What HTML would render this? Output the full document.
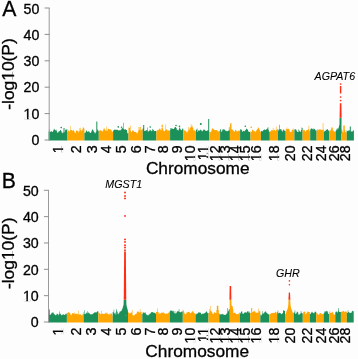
<!DOCTYPE html>
<html><head><meta charset="utf-8"><title>Manhattan plots</title>
<style>
html,body{margin:0;padding:0;background:#fdfdfd;}
svg{display:block;font-family:"Liberation Sans",sans-serif;fill:#000;}
text{stroke:#000;stroke-width:0.3px;}
text.g{stroke-width:0.08px;}
</style></head><body>
<svg width="358" height="359" viewBox="0 0 358 359">
<rect width="358" height="359" fill="#fdfdfd"/>
<path d="M48.60,140.60L48.60,131.17L49.10,131.17L49.10,129.07L49.59,129.07L49.59,131.99L50.09,131.99L50.09,132.10L50.59,132.10L50.59,131.14L51.09,131.14L51.09,130.88L51.58,130.88L51.58,131.66L52.08,131.66L52.08,131.66L52.58,131.66L52.58,131.90L53.08,131.90L53.08,130.52L53.57,130.52L53.57,129.50L54.07,129.50L54.07,129.71L54.57,129.71L54.57,128.73L55.07,128.73L55.07,130.15L55.56,130.15L55.56,130.13L56.06,130.13L56.06,129.75L56.56,129.75L56.56,131.36L57.06,131.36L57.06,132.46L57.55,132.46L57.55,132.85L58.05,132.85L58.05,132.29L58.55,132.29L58.55,131.39L59.04,131.39L59.04,131.36L59.54,131.36L59.54,131.04L60.04,131.04L60.04,130.34L60.54,130.34L60.54,130.08L61.03,130.08L61.03,130.96L61.53,130.96L61.53,132.54L62.03,132.54L62.03,133.23L62.53,133.23L62.53,132.44L63.02,132.44L63.02,132.49L63.52,132.49L63.52,128.12L64.02,128.12L64.02,128.12L64.52,128.12L64.52,132.21L65.01,132.21L65.01,130.35L65.51,130.35L65.51,129.60L66.01,129.60L66.01,129.03L66.51,129.03L66.51,130.08L67.00,130.08L67.00,131.69L67.50,131.69L67.50,140.60Z" fill="#1b9058"/>
<path d="M67.50,140.60L67.50,128.96L68.00,128.96L68.00,130.03L68.49,130.03L68.49,131.06L68.99,131.06L68.99,131.48L69.49,131.48L69.49,131.25L69.99,131.25L69.99,126.01L70.48,126.01L70.48,130.21L70.98,130.21L70.98,130.08L71.48,130.08L71.48,129.91L71.97,129.91L71.97,130.50L72.47,130.50L72.47,130.63L72.97,130.63L72.97,129.84L73.46,129.84L73.46,130.60L73.96,130.60L73.96,130.89L74.46,130.89L74.46,132.40L74.96,132.40L74.96,132.85L75.45,132.85L75.45,132.96L75.95,132.96L75.95,130.61L76.45,130.61L76.45,130.40L76.94,130.40L76.94,130.78L77.44,130.78L77.44,131.02L77.94,131.02L77.94,131.36L78.44,131.36L78.44,132.46L78.93,132.46L78.93,128.36L79.43,128.36L79.43,131.36L79.93,131.36L79.93,130.03L80.42,130.03L80.42,127.84L80.92,127.84L80.92,130.43L81.42,130.43L81.42,131.23L81.91,131.23L81.91,130.17L82.41,130.17L82.41,128.77L82.91,128.77L82.91,126.97L83.41,126.97L83.41,127.89L83.90,127.89L83.90,128.42L84.40,128.42L84.40,140.60Z" fill="#ffa700"/>
<path d="M84.40,140.60L84.40,132.70L84.90,132.70L84.90,133.10L85.39,133.10L85.39,132.34L85.89,132.34L85.89,130.73L86.39,130.73L86.39,130.45L86.88,130.45L86.88,131.14L87.38,131.14L87.38,131.88L87.88,131.88L87.88,131.79L88.37,131.79L88.37,131.26L88.87,131.26L88.87,131.29L89.37,131.29L89.37,132.19L89.86,132.19L89.86,132.91L90.36,132.91L90.36,132.88L90.86,132.88L90.86,132.14L91.35,132.14L91.35,131.15L91.85,131.15L91.85,129.66L92.34,129.66L92.34,129.28L92.84,129.28L92.84,129.95L93.34,129.95L93.34,131.01L93.83,131.01L93.83,132.01L94.33,132.01L94.33,132.47L94.83,132.47L94.83,133.40L95.32,133.40L95.32,132.83L95.82,132.83L95.82,131.86L96.32,131.86L96.32,121.52L96.81,121.52L96.81,121.52L97.31,121.52L97.31,129.41L97.81,129.41L97.81,130.34L98.30,130.34L98.30,131.01L98.80,131.01L98.80,140.60Z" fill="#1b9058"/>
<path d="M98.80,140.60L98.80,131.05L99.29,131.05L99.29,130.56L99.79,130.56L99.79,130.84L100.28,130.84L100.28,130.01L100.77,130.01L100.77,130.13L101.27,130.13L101.27,130.86L101.76,130.86L101.76,131.14L102.25,131.14L102.25,131.46L102.74,131.46L102.74,130.80L103.24,130.80L103.24,129.29L103.73,129.29L103.73,128.51L104.22,128.51L104.22,128.49L104.72,128.49L104.72,129.54L105.21,129.54L105.21,130.27L105.70,130.27L105.70,130.98L106.20,130.98L106.20,126.77L106.69,126.77L106.69,130.44L107.18,130.44L107.18,130.74L107.68,130.74L107.68,128.98L108.17,128.98L108.17,128.58L108.66,128.58L108.66,128.94L109.16,128.94L109.16,129.39L109.65,129.39L109.65,129.53L110.14,129.53L110.14,129.24L110.63,129.24L110.63,129.79L111.13,129.79L111.13,130.33L111.62,130.33L111.62,131.22L112.11,131.22L112.11,131.89L112.61,131.89L112.61,131.20L113.10,131.20L113.10,140.60Z" fill="#ffa700"/>
<path d="M113.10,140.60L113.10,130.82L113.60,130.82L113.60,130.07L114.09,130.07L114.09,129.74L114.59,129.74L114.59,129.41L115.09,129.41L115.09,129.41L115.58,129.41L115.58,129.91L116.08,129.91L116.08,129.80L116.58,129.80L116.58,129.76L117.07,129.76L117.07,129.82L117.57,129.82L117.57,130.04L118.07,130.04L118.07,129.95L118.56,129.95L118.56,130.76L119.06,130.76L119.06,130.36L119.56,130.36L119.56,130.20L120.05,130.20L120.05,130.52L120.55,130.52L120.55,129.69L121.05,129.69L121.05,129.43L121.55,129.43L121.55,128.57L122.04,128.57L122.04,127.89L122.54,127.89L122.54,128.34L123.04,128.34L123.04,122.87L123.53,122.87L123.53,128.96L124.03,128.96L124.03,129.48L124.53,129.48L124.53,129.62L125.02,129.62L125.02,129.45L125.52,129.45L125.52,129.33L126.02,129.33L126.02,130.04L126.51,130.04L126.51,129.97L127.01,129.97L127.01,132.53L127.51,132.53L127.51,133.40L128.00,133.40L128.00,132.93L128.50,132.93L128.50,140.60Z" fill="#1b9058"/>
<path d="M128.50,140.60L128.50,127.61L129.01,127.61L129.01,127.70L129.51,127.70L129.51,127.81L130.02,127.81L130.02,125.48L130.53,125.48L130.53,130.92L131.04,130.92L131.04,131.90L131.54,131.90L131.54,132.06L132.05,132.06L132.05,130.83L132.56,130.83L132.56,130.24L133.06,130.24L133.06,130.52L133.57,130.52L133.57,131.12L134.08,131.12L134.08,131.91L134.59,131.91L134.59,132.12L135.09,132.12L135.09,131.87L135.60,131.87L135.60,131.98L136.11,131.98L136.11,132.46L136.61,132.46L136.61,133.29L137.12,133.29L137.12,133.40L137.63,133.40L137.63,131.91L138.14,131.91L138.14,130.59L138.64,130.59L138.64,126.90L139.15,126.90L139.15,129.69L139.66,129.69L139.66,127.06L140.16,127.06L140.16,127.06L140.67,127.06L140.67,130.20L141.18,130.20L141.18,129.69L141.69,129.69L141.69,129.73L142.19,129.73L142.19,128.89L142.70,128.89L142.70,140.60Z" fill="#ffa700"/>
<path d="M142.70,140.60L142.70,128.56L143.21,128.56L143.21,124.95L143.71,124.95L143.71,124.95L144.22,124.95L144.22,131.12L144.73,131.12L144.73,130.91L145.24,130.91L145.24,130.87L145.74,130.87L145.74,130.15L146.25,130.15L146.25,130.08L146.76,130.08L146.76,130.61L147.27,130.61L147.27,127.62L147.77,127.62L147.77,131.56L148.28,131.56L148.28,131.60L148.79,131.60L148.79,131.05L149.30,131.05L149.30,130.53L149.80,130.53L149.80,129.57L150.31,129.57L150.31,130.21L150.82,130.21L150.82,130.78L151.33,130.78L151.33,131.33L151.83,131.33L151.83,130.65L152.34,130.65L152.34,128.98L152.85,128.98L152.85,129.55L153.36,129.55L153.36,130.09L153.86,130.09L153.86,131.26L154.37,131.26L154.37,131.04L154.88,131.04L154.88,130.71L155.39,130.71L155.39,131.01L155.89,131.01L155.89,131.09L156.40,131.09L156.40,140.60Z" fill="#1b9058"/>
<path d="M156.40,140.60L156.40,130.91L156.91,130.91L156.91,130.14L157.41,130.14L157.41,130.16L157.92,130.16L157.92,130.31L158.43,130.31L158.43,129.67L158.94,129.67L158.94,129.04L159.44,129.04L159.44,128.58L159.95,128.58L159.95,128.85L160.46,128.85L160.46,129.97L160.97,129.97L160.97,130.44L161.47,130.44L161.47,127.89L161.98,127.89L161.98,128.50L162.49,128.50L162.49,124.32L163.00,124.32L163.00,129.50L163.50,129.50L163.50,130.88L164.01,130.88L164.01,131.13L164.52,131.13L164.52,130.96L165.03,130.96L165.03,129.98L165.53,129.98L165.53,124.51L166.04,124.51L166.04,128.90L166.55,128.90L166.55,129.80L167.06,129.80L167.06,130.57L167.56,130.57L167.56,130.44L168.07,130.44L168.07,130.41L168.58,130.41L168.58,130.49L169.09,130.49L169.09,130.79L169.59,130.79L169.59,130.17L170.10,130.17L170.10,140.60Z" fill="#ffa700"/>
<path d="M170.10,140.60L170.10,127.93L170.60,127.93L170.60,129.87L171.11,129.87L171.11,128.55L171.61,128.55L171.61,128.21L172.12,128.21L172.12,128.47L172.62,128.47L172.62,128.97L173.12,128.97L173.12,128.90L173.63,128.90L173.63,129.09L174.13,129.09L174.13,128.02L174.63,128.02L174.63,127.00L175.14,127.00L175.14,127.00L175.64,127.00L175.64,127.14L176.15,127.14L176.15,128.09L176.65,128.09L176.65,129.81L177.15,129.81L177.15,129.81L177.66,129.81L177.66,130.29L178.16,130.29L178.16,130.42L178.67,130.42L178.67,129.22L179.17,129.22L179.17,127.49L179.67,127.49L179.67,127.59L180.18,127.59L180.18,128.99L180.68,128.99L180.68,130.04L181.18,130.04L181.18,130.17L181.69,130.17L181.69,129.79L182.19,129.79L182.19,128.70L182.70,128.70L182.70,128.46L183.20,128.46L183.20,140.60Z" fill="#1b9058"/>
<path d="M183.20,140.60L183.20,129.24L183.71,129.24L183.71,129.87L184.22,129.87L184.22,130.70L184.72,130.70L184.72,130.31L185.23,130.31L185.23,130.71L185.74,130.71L185.74,131.22L186.25,131.22L186.25,131.88L186.76,131.88L186.76,132.64L187.26,132.64L187.26,131.56L187.77,131.56L187.77,130.41L188.28,130.41L188.28,126.89L188.79,126.89L188.79,130.35L189.30,130.35L189.30,128.82L189.80,128.82L189.80,127.82L190.31,127.82L190.31,127.50L190.82,127.50L190.82,124.27L191.33,124.27L191.33,126.67L191.84,126.67L191.84,125.32L192.34,125.32L192.34,127.24L192.85,127.24L192.85,127.78L193.36,127.78L193.36,130.29L193.87,130.29L193.87,130.01L194.38,130.01L194.38,130.40L194.88,130.40L194.88,131.60L195.39,131.60L195.39,131.09L195.90,131.09L195.90,140.60Z" fill="#ffa700"/>
<path d="M195.90,140.60L195.90,129.61L196.39,129.61L196.39,129.78L196.89,129.78L196.89,128.54L197.38,128.54L197.38,131.89L197.87,131.89L197.87,130.31L198.36,130.31L198.36,130.65L198.86,130.65L198.86,130.81L199.35,130.81L199.35,130.43L199.84,130.43L199.84,130.00L200.33,130.00L200.33,129.45L200.83,129.45L200.83,130.15L201.32,130.15L201.32,130.52L201.81,130.52L201.81,131.34L202.30,131.34L202.30,131.18L202.80,131.18L202.80,130.13L203.29,130.13L203.29,129.66L203.78,129.66L203.78,129.48L204.27,129.48L204.27,129.71L204.77,129.71L204.77,130.11L205.26,130.11L205.26,130.67L205.75,130.67L205.75,131.06L206.24,131.06L206.24,131.07L206.74,131.07L206.74,130.74L207.23,130.74L207.23,130.21L207.72,130.21L207.72,130.45L208.21,130.45L208.21,118.88L208.71,118.88L208.71,118.88L209.20,118.88L209.20,140.60Z" fill="#1b9058"/>
<path d="M209.20,140.60L209.20,131.97L209.70,131.97L209.70,131.98L210.19,131.98L210.19,132.19L210.69,132.19L210.69,131.73L211.18,131.73L211.18,130.76L211.68,130.76L211.68,129.23L212.17,129.23L212.17,128.36L212.67,128.36L212.67,128.58L213.16,128.58L213.16,129.09L213.66,129.09L213.66,129.48L214.15,129.48L214.15,130.01L214.65,130.01L214.65,130.05L215.15,130.05L215.15,130.09L215.64,130.09L215.64,130.13L216.14,130.13L216.14,130.00L216.63,130.00L216.63,130.07L217.13,130.07L217.13,130.49L217.62,130.49L217.62,131.15L218.12,131.15L218.12,131.38L218.61,131.38L218.61,131.20L219.11,131.20L219.11,130.97L219.60,130.97L219.60,130.59L220.10,130.59L220.10,140.60Z" fill="#ffa700"/>
<path d="M220.10,140.60L220.10,128.95L220.59,128.95L220.59,129.63L221.08,129.63L221.08,131.28L221.57,131.28L221.57,131.93L222.06,131.93L222.06,129.36L222.55,129.36L222.55,130.45L223.04,130.45L223.04,129.54L223.53,129.54L223.53,129.19L224.02,129.19L224.02,129.77L224.51,129.77L224.51,129.56L225.00,129.56L225.00,130.78L225.49,130.78L225.49,130.50L225.98,130.50L225.98,130.82L226.47,130.82L226.47,131.18L226.96,131.18L226.96,131.08L227.45,131.08L227.45,131.27L227.94,131.27L227.94,130.93L228.43,130.93L228.43,130.29L228.92,130.29L228.92,127.28L229.41,127.28L229.41,130.36L229.90,130.36L229.90,140.60Z" fill="#1b9058"/>
<path d="M229.90,140.60L229.90,124.56L230.41,124.56L230.41,123.10L230.92,123.10L230.92,123.10L231.43,123.10L231.43,129.35L231.94,129.35L231.94,129.60L232.45,129.60L232.45,129.85L232.96,129.85L232.96,130.39L233.47,130.39L233.47,131.01L233.98,131.01L233.98,131.68L234.49,131.68L234.49,131.27L235.00,131.27L235.00,130.22L235.51,130.22L235.51,129.77L236.02,129.77L236.02,130.48L236.53,130.48L236.53,131.32L237.04,131.32L237.04,131.35L237.55,131.35L237.55,131.46L238.06,131.46L238.06,130.48L238.57,130.48L238.57,130.64L239.08,130.64L239.08,130.72L239.59,130.72L239.59,130.72L240.10,130.72L240.10,140.60Z" fill="#ffa700"/>
<path d="M240.10,140.60L240.10,129.20L240.60,129.20L240.60,129.38L241.09,129.38L241.09,129.52L241.59,129.52L241.59,130.13L242.08,130.13L242.08,131.47L242.58,131.47L242.58,131.64L243.07,131.64L243.07,130.75L243.57,130.75L243.57,131.02L244.06,131.02L244.06,130.65L244.56,130.65L244.56,131.59L245.05,131.59L245.05,130.20L245.55,130.20L245.55,129.71L246.04,129.71L246.04,128.95L246.54,128.95L246.54,128.54L247.03,128.54L247.03,129.18L247.53,129.18L247.53,129.84L248.02,129.84L248.02,131.08L248.52,131.08L248.52,131.97L249.01,131.97L249.01,131.76L249.51,131.76L249.51,132.02L250.00,132.02L250.00,132.83L250.50,132.83L250.50,140.60Z" fill="#1b9058"/>
<path d="M250.50,140.60L250.50,131.30L251.00,131.30L251.00,131.79L251.49,131.79L251.49,131.84L251.99,131.84L251.99,129.90L252.48,129.90L252.48,129.61L252.98,129.61L252.98,130.18L253.47,130.18L253.47,130.70L253.97,130.70L253.97,130.88L254.46,130.88L254.46,131.35L254.96,131.35L254.96,132.22L255.45,132.22L255.45,131.49L255.95,131.49L255.95,130.78L256.44,130.78L256.44,130.11L256.94,130.11L256.94,129.18L257.43,129.18L257.43,128.73L257.93,128.73L257.93,127.72L258.42,127.72L258.42,127.52L258.92,127.52L258.92,128.77L259.41,128.77L259.41,130.12L259.91,130.12L259.91,131.32L260.40,131.32L260.40,131.95L260.90,131.95L260.90,140.60Z" fill="#ffa700"/>
<path d="M260.90,140.60L260.90,131.19L261.39,131.19L261.39,130.74L261.89,130.74L261.89,131.35L262.38,131.35L262.38,131.14L262.88,131.14L262.88,130.58L263.37,130.58L263.37,129.92L263.87,129.92L263.87,129.55L264.36,129.55L264.36,129.51L264.86,129.51L264.86,129.95L265.35,129.95L265.35,130.00L265.84,130.00L265.84,129.41L266.34,129.41L266.34,129.36L266.83,129.36L266.83,128.67L267.33,128.67L267.33,128.36L267.82,128.36L267.82,126.90L268.32,126.90L268.32,129.80L268.81,129.80L268.81,131.35L269.31,131.35L269.31,131.88L269.80,131.88L269.80,140.60Z" fill="#1b9058"/>
<path d="M269.80,140.60L269.80,131.69L270.31,131.69L270.31,131.24L270.82,131.24L270.82,130.83L271.34,130.83L271.34,130.00L271.85,130.00L271.85,130.08L272.36,130.08L272.36,130.34L272.88,130.34L272.88,127.74L273.39,127.74L273.39,130.82L273.90,130.82L273.90,129.67L274.41,129.67L274.41,129.68L274.93,129.68L274.93,130.93L275.44,130.93L275.44,130.68L275.95,130.68L275.95,126.62L276.46,126.62L276.46,129.93L276.98,129.93L276.98,129.06L277.49,129.06L277.49,129.53L278.00,129.53L278.00,140.60Z" fill="#ffa700"/>
<path d="M278.00,140.60L278.00,130.86L278.51,130.86L278.51,129.59L279.03,129.59L279.03,124.69L279.54,124.69L279.54,129.55L280.05,129.55L280.05,129.26L280.57,129.26L280.57,129.28L281.08,129.28L281.08,129.62L281.59,129.62L281.59,130.77L282.11,130.77L282.11,131.74L282.62,131.74L282.62,130.49L283.13,130.49L283.13,129.64L283.65,129.64L283.65,129.62L284.16,129.62L284.16,130.75L284.67,130.75L284.67,130.81L285.19,130.81L285.19,131.32L285.70,131.32L285.70,140.60Z" fill="#1b9058"/>
<path d="M285.70,140.60L285.70,129.29L286.21,129.29L286.21,129.24L286.72,129.24L286.72,127.54L287.24,127.54L287.24,128.90L287.75,128.90L287.75,128.91L288.26,128.91L288.26,128.73L288.77,128.73L288.77,128.76L289.28,128.76L289.28,130.22L289.79,130.22L289.79,131.70L290.31,131.70L290.31,132.19L290.82,132.19L290.82,131.89L291.33,131.89L291.33,131.48L291.84,131.48L291.84,130.00L292.35,130.00L292.35,129.44L292.86,129.44L292.86,128.52L293.38,128.52L293.38,129.87L293.89,129.87L293.89,130.80L294.40,130.80L294.40,140.60Z" fill="#ffa700"/>
<path d="M294.40,140.60L294.40,129.49L294.91,129.49L294.91,129.10L295.42,129.10L295.42,129.41L295.94,129.41L295.94,129.72L296.45,129.72L296.45,130.65L296.96,130.65L296.96,131.71L297.48,131.71L297.48,132.08L297.99,132.08L297.99,131.89L298.50,131.89L298.50,129.50L299.01,129.50L299.01,130.48L299.52,130.48L299.52,131.17L300.04,131.17L300.04,131.87L300.55,131.87L300.55,131.71L301.06,131.71L301.06,130.03L301.58,130.03L301.58,127.40L302.09,127.40L302.09,127.94L302.60,127.94L302.60,140.60Z" fill="#1b9058"/>
<path d="M302.60,140.60L302.60,130.04L303.11,130.04L303.11,130.42L303.61,130.42L303.61,129.86L304.12,129.86L304.12,130.05L304.63,130.05L304.63,130.81L305.13,130.81L305.13,131.38L305.64,131.38L305.64,131.73L306.15,131.73L306.15,130.08L306.65,130.08L306.65,130.11L307.16,130.11L307.16,129.86L307.67,129.86L307.67,130.13L308.17,130.13L308.17,128.88L308.68,128.88L308.68,125.74L309.19,125.74L309.19,130.20L309.69,130.20L309.69,131.29L310.20,131.29L310.20,140.60Z" fill="#ffa700"/>
<path d="M310.20,140.60L310.20,129.53L310.69,129.53L310.69,128.83L311.18,128.83L311.18,128.33L311.68,128.33L311.68,128.75L312.17,128.75L312.17,129.35L312.66,129.35L312.66,128.64L313.15,128.64L313.15,129.60L313.65,129.60L313.65,128.34L314.14,128.34L314.14,129.12L314.63,129.12L314.63,129.27L315.12,129.27L315.12,129.93L315.62,129.93L315.62,130.71L316.11,130.71L316.11,130.20L316.60,130.20L316.60,140.60Z" fill="#1b9058"/>
<path d="M316.60,140.60L316.60,131.00L317.11,131.00L317.11,129.07L317.63,129.07L317.63,130.28L318.14,130.28L318.14,130.11L318.66,130.11L318.66,129.17L319.17,129.17L319.17,129.44L319.69,129.44L319.69,129.33L320.20,129.33L320.20,129.49L320.71,129.49L320.71,129.70L321.23,129.70L321.23,129.74L321.74,129.74L321.74,129.92L322.26,129.92L322.26,129.88L322.77,129.88L322.77,123.10L323.29,123.10L323.29,129.49L323.80,129.49L323.80,140.60Z" fill="#ffa700"/>
<path d="M323.80,140.60L323.80,131.45L324.31,131.45L324.31,131.56L324.82,131.56L324.82,130.90L325.33,130.90L325.33,130.67L325.84,130.67L325.84,129.86L326.35,129.86L326.35,130.09L326.85,130.09L326.85,129.11L327.36,129.11L327.36,129.35L327.87,129.35L327.87,130.07L328.38,130.07L328.38,131.08L328.89,131.08L328.89,130.61L329.40,130.61L329.40,140.60Z" fill="#1b9058"/>
<path d="M329.40,140.60L329.40,131.52L329.88,131.52L329.88,130.94L330.37,130.94L330.37,129.94L330.85,129.94L330.85,129.61L331.34,129.61L331.34,127.59L331.82,127.59L331.82,127.59L332.31,127.59L332.31,127.59L332.79,127.59L332.79,130.46L333.28,130.46L333.28,130.48L333.76,130.48L333.76,131.14L334.25,131.14L334.25,131.77L334.73,131.77L334.73,131.91L335.22,131.91L335.22,131.28L335.70,131.28L335.70,140.60Z" fill="#ffa700"/>
<path d="M335.70,140.60L335.70,130.77L336.22,130.77L336.22,129.83L336.74,129.83L336.74,128.53L337.25,128.53L337.25,128.48L337.77,128.48L337.77,130.22L338.29,130.22L338.29,130.49L338.81,130.49L338.81,130.12L339.33,130.12L339.33,129.63L339.85,129.63L339.85,128.84L340.36,128.84L340.36,130.53L340.88,130.53L340.88,131.29L341.40,131.29L341.40,140.60Z" fill="#1b9058"/>
<path d="M341.40,140.60L341.40,129.31L341.88,129.31L341.88,130.06L342.36,130.06L342.36,131.69L342.85,131.69L342.85,132.46L343.33,132.46L343.33,125.48L343.81,125.48L343.81,125.48L344.29,125.48L344.29,125.48L344.77,125.48L344.77,130.18L345.25,130.18L345.25,132.11L345.74,132.11L345.74,132.45L346.22,132.45L346.22,131.99L346.70,131.99L346.70,140.60Z" fill="#ffa700"/>
<path d="M346.70,140.60L346.70,130.13L347.21,130.13L347.21,131.12L347.73,131.12L347.73,131.15L348.24,131.15L348.24,130.53L348.76,130.53L348.76,130.17L349.27,130.17L349.27,130.61L349.79,130.61L349.79,126.54L350.30,126.54L350.30,126.54L350.81,126.54L350.81,131.43L351.33,131.43L351.33,131.50L351.84,131.50L351.84,131.59L352.36,131.59L352.36,131.28L352.87,131.28L352.87,130.93L353.39,130.93L353.39,130.06L353.90,130.06L353.90,140.60Z" fill="#1b9058"/>
<path d="M48.20,322.60L48.20,314.03L48.71,314.03L48.71,309.62L49.21,309.62L49.21,309.62L49.72,309.62L49.72,314.83L50.22,314.83L50.22,314.70L50.73,314.70L50.73,314.13L51.23,314.13L51.23,313.35L51.74,313.35L51.74,312.87L52.24,312.87L52.24,312.46L52.75,312.46L52.75,312.43L53.25,312.43L53.25,312.75L53.76,312.75L53.76,314.26L54.26,314.26L54.26,314.04L54.77,314.04L54.77,315.02L55.28,315.02L55.28,315.35L55.78,315.35L55.78,315.17L56.29,315.17L56.29,314.41L56.79,314.41L56.79,313.62L57.30,313.62L57.30,313.97L57.80,313.97L57.80,314.48L58.31,314.48L58.31,315.22L58.81,315.22L58.81,314.09L59.32,314.09L59.32,311.57L59.82,311.57L59.82,313.69L60.33,313.69L60.33,313.78L60.84,313.78L60.84,314.78L61.34,314.78L61.34,315.22L61.85,315.22L61.85,315.25L62.35,315.25L62.35,314.52L62.86,314.52L62.86,314.42L63.36,314.42L63.36,314.34L63.87,314.34L63.87,314.65L64.37,314.65L64.37,314.90L64.88,314.90L64.88,314.61L65.38,314.61L65.38,313.81L65.89,313.81L65.89,314.29L66.39,314.29L66.39,313.61L66.90,313.61L66.90,322.60Z" fill="#1b9058"/>
<path d="M66.90,322.60L66.90,313.31L67.41,313.31L67.41,312.74L67.91,312.74L67.91,312.58L68.42,312.58L68.42,312.15L68.92,312.15L68.92,312.34L69.43,312.34L69.43,312.95L69.94,312.95L69.94,313.49L70.44,313.49L70.44,314.69L70.95,314.69L70.95,315.42L71.45,315.42L71.45,314.22L71.96,314.22L71.96,313.09L72.47,313.09L72.47,313.47L72.97,313.47L72.97,312.97L73.48,312.97L73.48,313.48L73.98,313.48L73.98,312.58L74.49,312.58L74.49,314.22L75.00,314.22L75.00,314.09L75.50,314.09L75.50,313.83L76.01,313.83L76.01,313.70L76.52,313.70L76.52,313.80L77.02,313.80L77.02,314.22L77.53,314.22L77.53,313.68L78.03,313.68L78.03,310.83L78.54,310.83L78.54,314.57L79.05,314.57L79.05,314.19L79.55,314.19L79.55,314.44L80.06,314.44L80.06,314.22L80.56,314.22L80.56,314.46L81.07,314.46L81.07,315.26L81.58,315.26L81.58,315.42L82.08,315.42L82.08,315.34L82.59,315.34L82.59,313.82L83.09,313.82L83.09,312.12L83.60,312.12L83.60,322.60Z" fill="#ffa700"/>
<path d="M83.60,322.60L83.60,313.88L84.11,313.88L84.11,310.24L84.61,310.24L84.61,314.32L85.12,314.32L85.12,313.86L85.63,313.86L85.63,313.66L86.13,313.66L86.13,312.84L86.64,312.84L86.64,312.64L87.15,312.64L87.15,311.29L87.66,311.29L87.66,313.60L88.16,313.60L88.16,312.60L88.67,312.60L88.67,312.81L89.18,312.81L89.18,313.30L89.68,313.30L89.68,314.00L90.19,314.00L90.19,314.16L90.70,314.16L90.70,314.42L91.20,314.42L91.20,314.15L91.71,314.15L91.71,314.15L92.22,314.15L92.22,314.23L92.72,314.23L92.72,313.71L93.23,313.71L93.23,313.36L93.74,313.36L93.74,313.00L94.24,313.00L94.24,312.42L94.75,312.42L94.75,311.95L95.26,311.95L95.26,312.42L95.77,312.42L95.77,312.37L96.27,312.37L96.27,312.51L96.78,312.51L96.78,311.86L97.29,311.86L97.29,311.17L97.79,311.17L97.79,311.15L98.30,311.15L98.30,322.60Z" fill="#1b9058"/>
<path d="M98.30,322.60L98.30,312.20L98.80,312.20L98.80,312.99L99.29,312.99L99.29,313.36L99.79,313.36L99.79,313.54L100.29,313.54L100.29,314.48L100.78,314.48L100.78,313.67L101.28,313.67L101.28,310.69L101.78,310.69L101.78,313.39L102.27,313.39L102.27,313.67L102.77,313.67L102.77,313.95L103.27,313.95L103.27,313.80L103.76,313.80L103.76,313.93L104.26,313.93L104.26,313.77L104.76,313.77L104.76,313.73L105.25,313.73L105.25,313.03L105.75,313.03L105.75,312.33L106.24,312.33L106.24,313.19L106.74,313.19L106.74,313.72L107.24,313.72L107.24,312.87L107.73,312.87L107.73,314.45L108.23,314.45L108.23,314.06L108.73,314.06L108.73,314.45L109.22,314.45L109.22,313.47L109.72,313.47L109.72,314.76L110.22,314.76L110.22,313.75L110.71,313.75L110.71,313.20L111.21,313.20L111.21,313.39L111.71,313.39L111.71,314.09L112.20,314.09L112.20,315.42L112.70,315.42L112.70,322.60Z" fill="#ffa700"/>
<path d="M112.70,322.60L112.70,312.03L113.19,312.03L113.19,312.42L113.69,312.42L113.69,309.81L114.18,309.81L114.18,313.22L114.67,313.22L114.67,313.65L115.17,313.65L115.17,312.42L115.66,312.42L115.66,314.75L116.15,314.75L116.15,308.96L116.65,308.96L116.65,310.83L117.14,310.83L117.14,311.71L117.64,311.71L117.64,313.70L118.13,313.70L118.13,314.25L118.62,314.25L118.62,313.33L119.12,313.33L119.12,312.80L119.61,312.80L119.61,311.38L120.10,311.38L120.10,311.40L120.60,311.40L120.60,311.26L121.09,311.26L121.09,311.24L121.58,311.24L121.58,311.33L122.08,311.33L122.08,312.20L122.57,312.20L122.57,312.32L123.06,312.32L123.06,312.59L123.56,312.59L123.56,311.96L124.05,311.96L124.05,311.98L124.55,311.98L124.55,313.16L125.04,313.16L125.04,314.69L125.53,314.69L125.53,315.42L126.03,315.42L126.03,315.42L126.52,315.42L126.52,313.47L127.01,313.47L127.01,312.20L127.51,312.20L127.51,311.58L128.00,311.58L128.00,322.60Z" fill="#1b9058"/>
<path d="M128.00,322.60L128.00,312.38L128.49,312.38L128.49,312.47L128.99,312.47L128.99,313.00L129.48,313.00L129.48,313.77L129.97,313.77L129.97,313.29L130.47,313.29L130.47,312.71L130.96,312.71L130.96,312.27L131.45,312.27L131.45,312.76L131.94,312.76L131.94,309.91L132.44,309.91L132.44,314.69L132.93,314.69L132.93,315.24L133.42,315.24L133.42,315.42L133.92,315.42L133.92,315.42L134.41,315.42L134.41,315.11L134.90,315.11L134.90,314.12L135.40,314.12L135.40,314.22L135.89,314.22L135.89,314.08L136.38,314.08L136.38,313.17L136.88,313.17L136.88,311.80L137.37,311.80L137.37,311.44L137.86,311.44L137.86,311.43L138.36,311.43L138.36,311.76L138.85,311.76L138.85,312.68L139.34,312.68L139.34,312.28L139.83,312.28L139.83,309.29L140.33,309.29L140.33,312.18L140.82,312.18L140.82,312.03L141.31,312.03L141.31,313.68L141.81,313.68L141.81,311.79L142.30,311.79L142.30,322.60Z" fill="#ffa700"/>
<path d="M142.30,322.60L142.30,313.92L142.81,313.92L142.81,312.79L143.31,312.79L143.31,312.35L143.82,312.35L143.82,312.96L144.33,312.96L144.33,312.50L144.84,312.50L144.84,313.35L145.34,313.35L145.34,312.22L145.85,312.22L145.85,314.28L146.36,314.28L146.36,314.83L146.87,314.83L146.87,314.69L147.37,314.69L147.37,315.35L147.88,315.35L147.88,315.42L148.39,315.42L148.39,314.78L148.90,314.78L148.90,313.93L149.40,313.93L149.40,314.54L149.91,314.54L149.91,313.34L150.42,313.34L150.42,313.42L150.93,313.42L150.93,312.56L151.43,312.56L151.43,312.08L151.94,312.08L151.94,312.09L152.45,312.09L152.45,312.33L152.96,312.33L152.96,312.22L153.46,312.22L153.46,313.10L153.97,313.10L153.97,312.52L154.48,312.52L154.48,313.07L154.99,313.07L154.99,313.30L155.49,313.30L155.49,313.83L156.00,313.83L156.00,322.60Z" fill="#1b9058"/>
<path d="M156.00,322.60L156.00,311.92L156.51,311.92L156.51,311.66L157.01,311.66L157.01,311.84L157.52,311.84L157.52,308.17L158.03,308.17L158.03,311.91L158.54,311.91L158.54,313.86L159.04,313.86L159.04,312.78L159.55,312.78L159.55,313.76L160.06,313.76L160.06,313.42L160.57,313.42L160.57,313.30L161.07,313.30L161.07,312.73L161.58,312.73L161.58,312.51L162.09,312.51L162.09,312.91L162.60,312.91L162.60,312.25L163.10,312.25L163.10,312.27L163.61,312.27L163.61,313.16L164.12,313.16L164.12,313.02L164.63,313.02L164.63,313.45L165.13,313.45L165.13,314.18L165.64,314.18L165.64,313.80L166.15,313.80L166.15,313.63L166.66,313.63L166.66,313.13L167.16,313.13L167.16,313.78L167.67,313.78L167.67,313.54L168.18,313.54L168.18,312.75L168.69,312.75L168.69,312.43L169.19,312.43L169.19,312.31L169.70,312.31L169.70,322.60Z" fill="#ffa700"/>
<path d="M169.70,322.60L169.70,311.17L170.20,311.17L170.20,310.59L170.71,310.59L170.71,310.43L171.21,310.43L171.21,310.99L171.72,310.99L171.72,310.22L172.22,310.22L172.22,311.20L172.72,311.20L172.72,311.20L173.23,311.20L173.23,310.83L173.73,310.83L173.73,312.50L174.23,312.50L174.23,313.20L174.74,313.20L174.74,310.95L175.24,310.95L175.24,313.56L175.75,313.56L175.75,313.54L176.25,313.54L176.25,312.65L176.75,312.65L176.75,311.87L177.26,311.87L177.26,311.26L177.76,311.26L177.76,311.04L178.27,311.04L178.27,311.45L178.77,311.45L178.77,309.10L179.27,309.10L179.27,311.72L179.78,311.72L179.78,312.25L180.28,312.25L180.28,312.35L180.78,312.35L180.78,312.29L181.29,312.29L181.29,311.68L181.79,311.68L181.79,311.13L182.30,311.13L182.30,311.48L182.80,311.48L182.80,322.60Z" fill="#1b9058"/>
<path d="M182.80,322.60L182.80,309.76L183.31,309.76L183.31,310.56L183.82,310.56L183.82,311.88L184.32,311.88L184.32,313.45L184.83,313.45L184.83,314.24L185.34,314.24L185.34,314.27L185.85,314.27L185.85,313.77L186.36,313.77L186.36,312.82L186.86,312.82L186.86,312.24L187.37,312.24L187.37,312.19L187.88,312.19L187.88,311.80L188.39,311.80L188.39,311.98L188.90,311.98L188.90,311.76L189.40,311.76L189.40,312.42L189.91,312.42L189.91,312.98L190.42,312.98L190.42,313.22L190.93,313.22L190.93,312.92L191.44,312.92L191.44,312.03L191.94,312.03L191.94,311.29L192.45,311.29L192.45,311.16L192.96,311.16L192.96,311.84L193.47,311.84L193.47,312.54L193.98,312.54L193.98,313.15L194.48,313.15L194.48,313.33L194.99,313.33L194.99,313.45L195.50,313.45L195.50,322.60Z" fill="#ffa700"/>
<path d="M195.50,322.60L195.50,314.40L196.00,314.40L196.00,313.71L196.50,313.71L196.50,314.23L197.00,314.23L197.00,313.90L197.50,313.90L197.50,312.89L198.00,312.89L198.00,312.46L198.50,312.46L198.50,312.47L199.00,312.47L199.00,312.62L199.50,312.62L199.50,312.39L200.00,312.39L200.00,312.44L200.50,312.44L200.50,312.89L201.00,312.89L201.00,314.11L201.50,314.11L201.50,314.43L202.00,314.43L202.00,313.63L202.50,313.63L202.50,313.74L203.00,313.74L203.00,313.82L203.50,313.82L203.50,313.54L204.00,313.54L204.00,313.45L204.50,313.45L204.50,313.09L205.00,313.09L205.00,312.86L205.50,312.86L205.50,312.35L206.00,312.35L206.00,311.58L206.50,311.58L206.50,311.61L207.00,311.61L207.00,312.46L207.50,312.46L207.50,313.25L208.00,313.25L208.00,312.91L208.50,312.91L208.50,322.60Z" fill="#1b9058"/>
<path d="M208.50,322.60L208.50,312.92L208.99,312.92L208.99,312.45L209.48,312.45L209.48,309.05L209.97,309.05L209.97,310.64L210.46,310.64L210.46,306.08L210.95,306.08L210.95,311.18L211.45,311.18L211.45,311.84L211.94,311.84L211.94,312.40L212.43,312.40L212.43,314.10L212.92,314.10L212.92,313.81L213.41,313.81L213.41,313.98L213.90,313.98L213.90,312.06L214.39,312.06L214.39,312.41L214.88,312.41L214.88,313.04L215.37,313.04L215.37,312.81L215.86,312.81L215.86,312.90L216.35,312.90L216.35,309.88L216.85,309.88L216.85,305.67L217.34,305.67L217.34,305.67L217.83,305.67L217.83,305.67L218.32,305.67L218.32,309.88L218.81,309.88L218.81,312.94L219.30,312.94L219.30,322.60Z" fill="#ffa700"/>
<path d="M219.30,322.60L219.30,314.16L219.80,314.16L219.80,314.26L220.30,314.26L220.30,314.60L220.80,314.60L220.80,314.27L221.30,314.27L221.30,314.33L221.80,314.33L221.80,314.34L222.30,314.34L222.30,313.72L222.80,313.72L222.80,314.46L223.30,314.46L223.30,314.47L223.80,314.47L223.80,314.59L224.30,314.59L224.30,314.98L224.80,314.98L224.80,314.99L225.30,314.99L225.30,314.78L225.80,314.78L225.80,314.61L226.30,314.61L226.30,313.76L226.80,313.76L226.80,313.35L227.30,313.35L227.30,308.04L227.80,308.04L227.80,311.51L228.30,311.51L228.30,310.81L228.80,310.81L228.80,309.33L229.30,309.33L229.30,309.36L229.80,309.36L229.80,322.60Z" fill="#1b9058"/>
<path d="M229.80,322.60L229.80,313.56L230.30,313.56L230.30,313.03L230.80,313.03L230.80,312.34L231.30,312.34L231.30,313.20L231.80,313.20L231.80,306.20L232.30,306.20L232.30,306.20L232.80,306.20L232.80,309.02L233.30,309.02L233.30,313.24L233.80,313.24L233.80,312.97L234.30,312.97L234.30,312.63L234.80,312.63L234.80,312.47L235.30,312.47L235.30,313.22L235.80,313.22L235.80,313.88L236.30,313.88L236.30,313.88L236.80,313.88L236.80,314.55L237.30,314.55L237.30,313.89L237.80,313.89L237.80,314.10L238.30,314.10L238.30,313.28L238.80,313.28L238.80,314.31L239.30,314.31L239.30,312.27L239.80,312.27L239.80,322.60Z" fill="#ffa700"/>
<path d="M239.80,322.60L239.80,313.29L240.30,313.29L240.30,313.41L240.79,313.41L240.79,311.97L241.29,311.97L241.29,311.18L241.78,311.18L241.78,311.41L242.28,311.41L242.28,313.53L242.77,313.53L242.77,313.67L243.27,313.67L243.27,313.91L243.76,313.91L243.76,312.91L244.26,312.91L244.26,312.78L244.75,312.78L244.75,312.07L245.25,312.07L245.25,312.27L245.74,312.27L245.74,312.75L246.24,312.75L246.24,312.72L246.73,312.72L246.73,311.82L247.23,311.82L247.23,311.14L247.72,311.14L247.72,311.56L248.22,311.56L248.22,311.56L248.71,311.56L248.71,313.01L249.21,313.01L249.21,311.58L249.70,311.58L249.70,312.69L250.20,312.69L250.20,322.60Z" fill="#1b9058"/>
<path d="M250.20,322.60L250.20,313.00L250.70,313.00L250.70,313.09L251.21,313.09L251.21,308.04L251.72,308.04L251.72,308.04L252.22,308.04L252.22,312.21L252.72,312.21L252.72,312.08L253.23,312.08L253.23,311.30L253.73,311.30L253.73,311.38L254.24,311.38L254.24,311.00L254.75,311.00L254.75,311.49L255.25,311.49L255.25,312.58L255.75,312.58L255.75,312.34L256.26,312.34L256.26,312.95L256.76,312.95L256.76,312.42L257.27,312.42L257.27,312.74L257.77,312.74L257.77,312.65L258.28,312.65L258.28,308.83L258.79,308.83L258.79,311.57L259.29,311.57L259.29,310.94L259.80,310.94L259.80,311.25L260.30,311.25L260.30,322.60Z" fill="#ffa700"/>
<path d="M260.30,322.60L260.30,314.41L260.79,314.41L260.79,315.42L261.29,315.42L261.29,315.29L261.78,315.29L261.78,314.21L262.28,314.21L262.28,311.21L262.77,311.21L262.77,313.84L263.27,313.84L263.27,313.13L263.76,313.13L263.76,313.17L264.26,313.17L264.26,312.14L264.75,312.14L264.75,311.77L265.24,311.77L265.24,311.31L265.74,311.31L265.74,311.82L266.23,311.82L266.23,312.74L266.73,312.74L266.73,313.09L267.22,313.09L267.22,313.78L267.72,313.78L267.72,313.68L268.21,313.68L268.21,314.16L268.71,314.16L268.71,314.42L269.20,314.42L269.20,322.60Z" fill="#1b9058"/>
<path d="M269.20,322.60L269.20,314.42L269.70,314.42L269.70,314.38L270.20,314.38L270.20,313.66L270.70,313.66L270.70,313.30L271.20,313.30L271.20,313.14L271.70,313.14L271.70,313.07L272.20,313.07L272.20,313.22L272.70,313.22L272.70,312.81L273.20,312.81L273.20,312.66L273.70,312.66L273.70,312.93L274.20,312.93L274.20,312.98L274.70,312.98L274.70,312.45L275.20,312.45L275.20,311.82L275.70,311.82L275.70,311.95L276.20,311.95L276.20,312.53L276.70,312.53L276.70,314.04L277.20,314.04L277.20,322.60Z" fill="#ffa700"/>
<path d="M277.20,322.60L277.20,312.18L277.69,312.18L277.69,310.62L278.18,310.62L278.18,313.26L278.66,313.26L278.66,313.13L279.15,313.13L279.15,312.84L279.64,312.84L279.64,312.77L280.12,312.77L280.12,313.22L280.61,313.22L280.61,313.62L281.10,313.62L281.10,314.00L281.59,314.00L281.59,314.17L282.07,314.17L282.07,313.41L282.56,313.41L282.56,312.92L283.05,312.92L283.05,310.73L283.54,310.73L283.54,310.12L284.02,310.12L284.02,310.79L284.51,310.79L284.51,311.10L285.00,311.10L285.00,322.60Z" fill="#1b9058"/>
<path d="M285.00,322.60L285.00,313.68L285.51,313.68L285.51,314.13L286.02,314.13L286.02,312.67L286.54,312.67L286.54,313.05L287.05,313.05L287.05,312.78L287.56,312.78L287.56,313.02L288.07,313.02L288.07,308.50L288.58,308.50L288.58,310.77L289.09,310.77L289.09,312.48L289.61,312.48L289.61,312.36L290.12,312.36L290.12,312.59L290.63,312.59L290.63,313.22L291.14,313.22L291.14,313.28L291.65,313.28L291.65,312.92L292.16,312.92L292.16,313.35L292.68,313.35L292.68,313.26L293.19,313.26L293.19,312.93L293.70,312.93L293.70,322.60Z" fill="#ffa700"/>
<path d="M293.70,322.60L293.70,312.53L294.21,312.53L294.21,312.60L294.71,312.60L294.71,310.20L295.22,310.20L295.22,313.86L295.72,313.86L295.72,314.10L296.23,314.10L296.23,313.00L296.73,313.00L296.73,311.77L297.24,311.77L297.24,311.73L297.74,311.73L297.74,312.62L298.25,312.62L298.25,314.43L298.76,314.43L298.76,314.71L299.26,314.71L299.26,314.60L299.77,314.60L299.77,314.05L300.27,314.05L300.27,313.26L300.78,313.26L300.78,311.09L301.28,311.09L301.28,312.67L301.79,312.67L301.79,313.13L302.29,313.13L302.29,313.44L302.80,313.44L302.80,322.60Z" fill="#1b9058"/>
<path d="M302.80,322.60L302.80,313.51L303.30,313.51L303.30,312.08L303.80,312.08L303.80,311.42L304.30,311.42L304.30,311.77L304.80,311.77L304.80,311.42L305.30,311.42L305.30,314.60L305.80,314.60L305.80,313.97L306.30,313.97L306.30,313.02L306.80,313.02L306.80,312.48L307.30,312.48L307.30,311.55L307.80,311.55L307.80,311.44L308.30,311.44L308.30,311.93L308.80,311.93L308.80,312.09L309.30,312.09L309.30,312.06L309.80,312.06L309.80,322.60Z" fill="#ffa700"/>
<path d="M309.80,322.60L309.80,313.93L310.29,313.93L310.29,314.03L310.78,314.03L310.78,313.00L311.28,313.00L311.28,312.20L311.77,312.20L311.77,311.78L312.26,311.78L312.26,312.15L312.75,312.15L312.75,313.12L313.25,313.12L313.25,313.12L313.74,313.12L313.74,313.55L314.23,313.55L314.23,312.50L314.72,312.50L314.72,311.69L315.22,311.69L315.22,311.87L315.71,311.87L315.71,311.68L316.20,311.68L316.20,322.60Z" fill="#1b9058"/>
<path d="M316.20,322.60L316.20,313.07L316.69,313.07L316.69,313.08L317.19,313.08L317.19,313.49L317.68,313.49L317.68,314.29L318.17,314.29L318.17,314.91L318.67,314.91L318.67,314.53L319.16,314.53L319.16,313.90L319.65,313.90L319.65,312.82L320.15,312.82L320.15,313.33L320.64,313.33L320.64,313.08L321.13,313.08L321.13,313.85L321.63,313.85L321.63,314.52L322.12,314.52L322.12,314.01L322.61,314.01L322.61,314.12L323.11,314.12L323.11,314.13L323.60,314.13L323.60,322.60Z" fill="#ffa700"/>
<path d="M323.60,322.60L323.60,313.53L324.11,313.53L324.11,312.47L324.62,312.47L324.62,311.22L325.13,311.22L325.13,311.49L325.64,311.49L325.64,311.51L326.15,311.51L326.15,311.19L326.65,311.19L326.65,310.84L327.16,310.84L327.16,311.27L327.67,311.27L327.67,312.49L328.18,312.49L328.18,313.91L328.69,313.91L328.69,313.99L329.20,313.99L329.20,322.60Z" fill="#1b9058"/>
<path d="M329.20,322.60L329.20,312.36L329.71,312.36L329.71,310.97L330.22,310.97L330.22,312.91L330.73,312.91L330.73,312.97L331.23,312.97L331.23,312.67L331.74,312.67L331.74,312.08L332.25,312.08L332.25,311.67L332.76,311.67L332.76,312.80L333.27,312.80L333.27,313.65L333.77,313.65L333.77,314.74L334.28,314.74L334.28,315.01L334.79,315.01L334.79,313.94L335.30,313.94L335.30,322.60Z" fill="#ffa700"/>
<path d="M335.30,322.60L335.30,312.19L335.81,312.19L335.81,311.49L336.32,311.49L336.32,311.59L336.83,311.59L336.83,312.16L337.34,312.16L337.34,312.44L337.85,312.44L337.85,310.40L338.35,310.40L338.35,307.88L338.86,307.88L338.86,312.10L339.37,312.10L339.37,311.82L339.88,311.82L339.88,311.91L340.39,311.91L340.39,312.00L340.90,312.00L340.90,322.60Z" fill="#1b9058"/>
<path d="M340.90,322.60L340.90,311.92L341.39,311.92L341.39,311.85L341.88,311.85L341.88,311.39L342.38,311.39L342.38,311.53L342.87,311.53L342.87,311.05L343.36,311.05L343.36,310.72L343.85,310.72L343.85,311.75L344.34,311.75L344.34,312.28L344.83,312.28L344.83,311.37L345.32,311.37L345.32,311.82L345.82,311.82L345.82,311.37L346.31,311.37L346.31,311.83L346.80,311.83L346.80,322.60Z" fill="#ffa700"/>
<path d="M346.80,322.60L346.80,312.52L347.29,312.52L347.29,313.02L347.79,313.02L347.79,310.32L348.28,310.32L348.28,312.05L348.77,312.05L348.77,312.39L349.26,312.39L349.26,312.41L349.76,312.41L349.76,312.99L350.25,312.99L350.25,312.86L350.74,312.86L350.74,312.99L351.24,312.99L351.24,312.47L351.73,312.47L351.73,311.58L352.22,311.58L352.22,310.72L352.71,310.72L352.71,311.12L353.21,311.12L353.21,311.30L353.70,311.30L353.70,322.60Z" fill="#1b9058"/>
<polygon points="339.55,117.82 339.50,124.16 338.80,127.33 337.60,130.50 337.20,133.40 341.50,133.40 341.50,130.50 341.50,127.33 341.50,124.16 341.50,117.82" fill="#1b9058"/>
<polygon points="123.70,299.87 123.60,304.62 123.00,306.72 122.40,308.83 121.40,310.67 120.60,312.52 120.00,315.42 127.90,315.42 127.90,312.52 127.90,310.67 127.40,308.83 126.80,306.72 126.40,304.62 126.30,299.87" fill="#1b9058"/>
<polygon points="229.70,299.87 229.70,304.88 229.70,307.78 229.70,310.94 229.70,315.42 233.20,315.42 233.00,310.94 232.40,307.78 231.50,304.88 231.30,299.87" fill="#ffa700"/>
<polygon points="288.50,299.87 288.40,303.56 288.00,307.25 287.10,309.88 286.20,311.99 286.00,315.42 292.80,315.42 292.60,311.99 291.70,309.88 290.80,307.25 290.40,303.56 290.30,299.87" fill="#ffa700"/>
<circle cx="200.8" cy="123.9" r="1.0" fill="#1b9058"/><circle cx="245.3" cy="126.3" r="0.8" fill="#1b9058"/><circle cx="118.3" cy="126.9" r="0.8" fill="#1b9058"/><circle cx="121.6" cy="127.3" r="0.8" fill="#1b9058"/><circle cx="61.2" cy="127.6" r="0.8" fill="#1b9058"/><circle cx="162.0" cy="126.0" r="0.8" fill="#ffa700"/><circle cx="176.0" cy="125.5" r="0.8" fill="#1b9058"/><circle cx="179.5" cy="126.2" r="0.8" fill="#1b9058"/><circle cx="251.2" cy="127.2" r="0.8" fill="#ffa700"/><circle cx="150.2" cy="127.0" r="0.8" fill="#1b9058"/>
<polygon points="339.85,103.30 341.35,103.30 341.60,117.82 339.60,117.82" fill="#ff2b12"/>
<rect x="339.90" y="86.00" width="1.4" height="7.50" fill="#ff2b12"/>
<circle cx="340.60" cy="84.00" r="0.85" fill="#ff2b12"/><circle cx="340.60" cy="97.00" r="0.85" fill="#ff2b12"/><circle cx="340.60" cy="100.50" r="0.85" fill="#ff2b12"/>
<polygon points="124.15,253.00 125.85,253.00 126.25,299.87 123.75,299.87" fill="#ff2b12"/>
<circle cx="125.00" cy="239.40" r="0.95" fill="#ff2b12"/><circle cx="125.00" cy="242.00" r="0.95" fill="#ff2b12"/><circle cx="125.00" cy="245.30" r="0.95" fill="#ff2b12"/><circle cx="125.00" cy="247.50" r="0.95" fill="#ff2b12"/><circle cx="125.00" cy="250.20" r="0.95" fill="#ff2b12"/><circle cx="125.00" cy="252.20" r="0.95" fill="#ff2b12"/><circle cx="125.00" cy="215.90" r="0.95" fill="#ff2b12"/><circle cx="125.00" cy="192.50" r="0.95" fill="#ff2b12"/><circle cx="125.00" cy="196.00" r="0.95" fill="#ff2b12"/><circle cx="125.00" cy="198.40" r="0.95" fill="#ff2b12"/>
<polygon points="229.65,285.90 231.15,285.90 231.35,299.87 229.45,299.87" fill="#ff2b12"/>
<polygon points="288.80,292.40 290.00,292.40 290.35,299.87 288.45,299.87" fill="#ff2b12"/>
<circle cx="289.40" cy="280.90" r="0.8" fill="#ff2b12"/><circle cx="289.40" cy="284.80" r="0.8" fill="#ff2b12"/>
<line x1="49.2" y1="8.00" x2="49.2" y2="140.00" stroke="#9a9a9a" stroke-width="1"/><line x1="44.6" y1="140.00" x2="49.7" y2="140.00" stroke="#909090" stroke-width="1"/><text x="39.400000000000006" y="145.00" text-anchor="end" font-size="14.2">0</text><line x1="44.6" y1="113.60" x2="49.7" y2="113.60" stroke="#909090" stroke-width="1"/><text x="39.400000000000006" y="118.72" text-anchor="end" font-size="14.2">10</text><rect x="24.09" y="117.17" width="2.93" height="2.4" fill="#fdfdfd"/><rect x="28.59" y="117.17" width="2.82" height="2.4" fill="#fdfdfd"/><line x1="44.6" y1="87.20" x2="49.7" y2="87.20" stroke="#909090" stroke-width="1"/><text x="39.400000000000006" y="92.44" text-anchor="end" font-size="14.2">20</text><line x1="44.6" y1="60.80" x2="49.7" y2="60.80" stroke="#909090" stroke-width="1"/><text x="39.400000000000006" y="66.16" text-anchor="end" font-size="14.2">30</text><line x1="44.6" y1="34.40" x2="49.7" y2="34.40" stroke="#909090" stroke-width="1"/><text x="39.400000000000006" y="39.88" text-anchor="end" font-size="14.2">40</text><line x1="44.6" y1="8.00" x2="49.7" y2="8.00" stroke="#909090" stroke-width="1"/><text x="39.400000000000006" y="13.60" text-anchor="end" font-size="14.2">50</text>
<line x1="48.5" y1="190.30" x2="48.5" y2="322.00" stroke="#9a9a9a" stroke-width="1"/><line x1="43.9" y1="322.00" x2="49.0" y2="322.00" stroke="#909090" stroke-width="1"/><text x="38.7" y="327.00" text-anchor="end" font-size="14.2">0</text><line x1="43.9" y1="295.66" x2="49.0" y2="295.66" stroke="#909090" stroke-width="1"/><text x="38.7" y="300.78" text-anchor="end" font-size="14.2">10</text><rect x="23.39" y="299.23" width="2.93" height="2.4" fill="#fdfdfd"/><rect x="27.89" y="299.23" width="2.82" height="2.4" fill="#fdfdfd"/><line x1="43.9" y1="269.32" x2="49.0" y2="269.32" stroke="#909090" stroke-width="1"/><text x="38.7" y="274.56" text-anchor="end" font-size="14.2">20</text><line x1="43.9" y1="242.98" x2="49.0" y2="242.98" stroke="#909090" stroke-width="1"/><text x="38.7" y="248.34" text-anchor="end" font-size="14.2">30</text><line x1="43.9" y1="216.64" x2="49.0" y2="216.64" stroke="#909090" stroke-width="1"/><text x="38.7" y="222.12" text-anchor="end" font-size="14.2">40</text><line x1="43.9" y1="190.30" x2="49.0" y2="190.30" stroke="#909090" stroke-width="1"/><text x="38.7" y="195.90" text-anchor="end" font-size="14.2">50</text>
<text transform="translate(63.15,145.40) rotate(-90)" text-anchor="end" font-size="14.2">1</text><rect x="61.65" y="149.89" width="2.2" height="2.93" fill="#fdfdfd"/><rect x="61.65" y="145.49" width="2.2" height="2.82" fill="#fdfdfd"/><text transform="translate(81.05,145.40) rotate(-90)" text-anchor="end" font-size="14.2">2</text><text transform="translate(96.70,145.40) rotate(-90)" text-anchor="end" font-size="14.2">3</text><text transform="translate(111.05,145.40) rotate(-90)" text-anchor="end" font-size="14.2">4</text><text transform="translate(125.90,145.40) rotate(-90)" text-anchor="end" font-size="14.2">5</text><text transform="translate(140.70,145.40) rotate(-90)" text-anchor="end" font-size="14.2">6</text><text transform="translate(154.65,145.40) rotate(-90)" text-anchor="end" font-size="14.2">7</text><text transform="translate(168.35,145.40) rotate(-90)" text-anchor="end" font-size="14.2">8</text><text transform="translate(181.75,145.40) rotate(-90)" text-anchor="end" font-size="14.2">9</text><text transform="translate(194.65,145.40) rotate(-90)" text-anchor="end" font-size="14.2">10</text><rect x="193.15" y="157.78" width="2.2" height="2.93" fill="#fdfdfd"/><rect x="193.15" y="153.39" width="2.2" height="2.82" fill="#fdfdfd"/><text transform="translate(207.65,145.40) rotate(-90)" text-anchor="end" font-size="14.2">11</text><rect x="206.15" y="157.78" width="2.2" height="2.93" fill="#fdfdfd"/><rect x="206.15" y="153.39" width="2.2" height="2.82" fill="#fdfdfd"/><rect x="206.15" y="149.89" width="2.2" height="2.93" fill="#fdfdfd"/><rect x="206.15" y="145.49" width="2.2" height="2.82" fill="#fdfdfd"/><text transform="translate(219.75,145.40) rotate(-90)" text-anchor="end" font-size="14.2">12</text><rect x="218.25" y="157.78" width="2.2" height="2.93" fill="#fdfdfd"/><rect x="218.25" y="153.39" width="2.2" height="2.82" fill="#fdfdfd"/><text transform="translate(230.10,145.40) rotate(-90)" text-anchor="end" font-size="14.2">13</text><rect x="228.60" y="157.78" width="2.2" height="2.93" fill="#fdfdfd"/><rect x="228.60" y="153.39" width="2.2" height="2.82" fill="#fdfdfd"/><text transform="translate(240.10,145.40) rotate(-90)" text-anchor="end" font-size="14.2">14</text><rect x="238.60" y="157.78" width="2.2" height="2.93" fill="#fdfdfd"/><rect x="238.60" y="153.39" width="2.2" height="2.82" fill="#fdfdfd"/><text transform="translate(250.40,145.40) rotate(-90)" text-anchor="end" font-size="14.2">15</text><rect x="248.90" y="157.78" width="2.2" height="2.93" fill="#fdfdfd"/><rect x="248.90" y="153.39" width="2.2" height="2.82" fill="#fdfdfd"/><text transform="translate(260.80,145.40) rotate(-90)" text-anchor="end" font-size="14.2">16</text><rect x="259.30" y="157.78" width="2.2" height="2.93" fill="#fdfdfd"/><rect x="259.30" y="153.39" width="2.2" height="2.82" fill="#fdfdfd"/><text transform="translate(279.00,145.40) rotate(-90)" text-anchor="end" font-size="14.2">18</text><rect x="277.50" y="157.78" width="2.2" height="2.93" fill="#fdfdfd"/><rect x="277.50" y="153.39" width="2.2" height="2.82" fill="#fdfdfd"/><text transform="translate(295.15,145.40) rotate(-90)" text-anchor="end" font-size="14.2">20</text><text transform="translate(311.50,145.40) rotate(-90)" text-anchor="end" font-size="14.2">22</text><text transform="translate(325.70,145.40) rotate(-90)" text-anchor="end" font-size="14.2">24</text><text transform="translate(338.65,145.40) rotate(-90)" text-anchor="end" font-size="14.2">26</text><text transform="translate(349.85,145.40) rotate(-90)" text-anchor="end" font-size="14.2">28</text>
<text transform="translate(62.75,327.60) rotate(-90)" text-anchor="end" font-size="14.2">1</text><rect x="61.25" y="332.09" width="2.2" height="2.93" fill="#fdfdfd"/><rect x="61.25" y="327.69" width="2.2" height="2.82" fill="#fdfdfd"/><text transform="translate(80.71,327.60) rotate(-90)" text-anchor="end" font-size="14.2">2</text><text transform="translate(96.41,327.60) rotate(-90)" text-anchor="end" font-size="14.2">3</text><text transform="translate(110.82,327.60) rotate(-90)" text-anchor="end" font-size="14.2">4</text><text transform="translate(125.73,327.60) rotate(-90)" text-anchor="end" font-size="14.2">5</text><text transform="translate(140.59,327.60) rotate(-90)" text-anchor="end" font-size="14.2">6</text><text transform="translate(154.59,327.60) rotate(-90)" text-anchor="end" font-size="14.2">7</text><text transform="translate(168.35,327.60) rotate(-90)" text-anchor="end" font-size="14.2">8</text><text transform="translate(181.75,327.60) rotate(-90)" text-anchor="end" font-size="14.2">9</text><text transform="translate(194.65,327.60) rotate(-90)" text-anchor="end" font-size="14.2">10</text><rect x="193.15" y="339.98" width="2.2" height="2.93" fill="#fdfdfd"/><rect x="193.15" y="335.59" width="2.2" height="2.82" fill="#fdfdfd"/><text transform="translate(207.65,327.60) rotate(-90)" text-anchor="end" font-size="14.2">11</text><rect x="206.15" y="339.98" width="2.2" height="2.93" fill="#fdfdfd"/><rect x="206.15" y="335.59" width="2.2" height="2.82" fill="#fdfdfd"/><rect x="206.15" y="332.09" width="2.2" height="2.93" fill="#fdfdfd"/><rect x="206.15" y="327.69" width="2.2" height="2.82" fill="#fdfdfd"/><text transform="translate(219.75,327.60) rotate(-90)" text-anchor="end" font-size="14.2">12</text><rect x="218.25" y="339.98" width="2.2" height="2.93" fill="#fdfdfd"/><rect x="218.25" y="335.59" width="2.2" height="2.82" fill="#fdfdfd"/><text transform="translate(230.10,327.60) rotate(-90)" text-anchor="end" font-size="14.2">13</text><rect x="228.60" y="339.98" width="2.2" height="2.93" fill="#fdfdfd"/><rect x="228.60" y="335.59" width="2.2" height="2.82" fill="#fdfdfd"/><text transform="translate(240.10,327.60) rotate(-90)" text-anchor="end" font-size="14.2">14</text><rect x="238.60" y="339.98" width="2.2" height="2.93" fill="#fdfdfd"/><rect x="238.60" y="335.59" width="2.2" height="2.82" fill="#fdfdfd"/><text transform="translate(250.40,327.60) rotate(-90)" text-anchor="end" font-size="14.2">15</text><rect x="248.90" y="339.98" width="2.2" height="2.93" fill="#fdfdfd"/><rect x="248.90" y="335.59" width="2.2" height="2.82" fill="#fdfdfd"/><text transform="translate(260.80,327.60) rotate(-90)" text-anchor="end" font-size="14.2">16</text><rect x="259.30" y="339.98" width="2.2" height="2.93" fill="#fdfdfd"/><rect x="259.30" y="335.59" width="2.2" height="2.82" fill="#fdfdfd"/><text transform="translate(279.00,327.60) rotate(-90)" text-anchor="end" font-size="14.2">18</text><rect x="277.50" y="339.98" width="2.2" height="2.93" fill="#fdfdfd"/><rect x="277.50" y="335.59" width="2.2" height="2.82" fill="#fdfdfd"/><text transform="translate(295.15,327.60) rotate(-90)" text-anchor="end" font-size="14.2">20</text><text transform="translate(311.50,327.60) rotate(-90)" text-anchor="end" font-size="14.2">22</text><text transform="translate(325.70,327.60) rotate(-90)" text-anchor="end" font-size="14.2">24</text><text transform="translate(338.65,327.60) rotate(-90)" text-anchor="end" font-size="14.2">26</text><text transform="translate(349.85,327.60) rotate(-90)" text-anchor="end" font-size="14.2">28</text>
<text x="197.75" y="174.4" text-anchor="middle" font-size="17.3">Chromosome</text>
<text x="197.2" y="356.7" text-anchor="middle" font-size="17.3">Chromosome</text>
<text transform="translate(14.4,74.0) rotate(-90)" text-anchor="middle" font-size="17.4">-log10(P)</text>
<text transform="translate(14.3,253.3) rotate(-90)" text-anchor="middle" font-size="17.4">-log10(P)</text>
<rect x="12.65" y="76.57" width="2.6" height="3.57" fill="#fdfdfd"/><rect x="12.65" y="71.24" width="2.6" height="3.43" fill="#fdfdfd"/>
<rect x="12.55" y="255.87" width="2.6" height="3.57" fill="#fdfdfd"/><rect x="12.55" y="250.54" width="2.6" height="3.43" fill="#fdfdfd"/>
<text x="2.3" y="15.5" font-size="21.2">A</text>
<text x="1.7" y="188.2" font-size="21.2">B</text>
<text class="g" x="314.5" y="80.3" font-size="10.7" font-style="italic">AGPAT6</text>
<text class="g" x="105.3" y="187.6" font-size="10.7" font-style="italic">MGST1</text>
<text class="g" x="275.9" y="276.7" font-size="10.7" font-style="italic">GHR</text>
</svg>
</body></html>
